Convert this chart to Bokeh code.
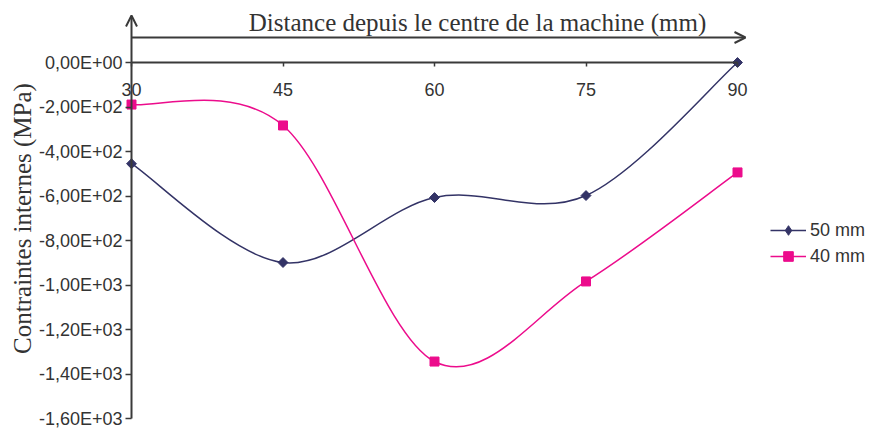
import numpy as np
from bokeh.plotting import figure
from bokeh.models import (Range1d, LinearAxis, FixedTicker, Arrow, OpenHead, Label,
                          Legend, LegendItem, ColumnDataSource)
from bokeh.embed import file_html
from bokeh.resources import INLINE

# ---- data ----
distance = [30, 45, 60, 75, 90]
s50 = [-455, -899, -607, -598, 0]
s40 = [-189, -283, -1344, -984, -494]
series_names = ["50 mm", "40 mm"]
x_ticks = [30, 45, 60, 75, 90]
y_ticks = [0, -200, -400, -600, -800, -1000, -1200, -1400, -1600]
y_tick_labels = ["0,00E+00", "-2,00E+02", "-4,00E+02", "-6,00E+02", "-8,00E+02",
                 "-1,00E+03", "-1,20E+03", "-1,40E+03", "-1,60E+03"]
x_title = "Distance depuis le centre de la machine (mm)"
y_title = "Contraintes internes (MPa)"

NAVY = "#333366"
MAGENTA = "#EC0C8C"
AXIS = "#3a3a3a"
TEXT = "#333333"
SANS = "Liberation Sans"
SERIF = "Liberation Serif"

W, H = 869, 428
# layout (pixels): x=30 -> 131, x=90 -> 737 ; y=0 -> 62, y=-1600 -> 418
PX_X = (737 - 131) / 60.0
PX_Y = (418 - 62) / 1600.0
x_lo = 30 - 131 / PX_X
x_hi = 30 + (W - 131) / PX_X
y_hi = 62 / PX_Y
y_lo = -(H - 62) / PX_Y


def bezier_source(xs, ys):
    P = np.column_stack([np.asarray(xs, float), np.asarray(ys, float)])
    n = len(P)
    d = dict(x0=[], y0=[], x1=[], y1=[], cx0=[], cy0=[], cx1=[], cy1=[])
    for i in range(n - 1):
        p0 = P[max(i - 1, 0)]
        p1 = P[i]
        p2 = P[i + 1]
        p3 = P[min(i + 2, n - 1)]
        c0 = p1 + (p2 - p0) / 6.0
        c1 = p2 - (p3 - p1) / 6.0
        d["x0"].append(p1[0]); d["y0"].append(p1[1])
        d["x1"].append(p2[0]); d["y1"].append(p2[1])
        d["cx0"].append(c0[0]); d["cy0"].append(c0[1])
        d["cx1"].append(c1[0]); d["cy1"].append(c1[1])
    return ColumnDataSource(d)


p = figure(width=W, height=H, x_range=Range1d(x_lo, x_hi), y_range=Range1d(y_lo, y_hi),
           output_backend="svg", toolbar_location=None,
           x_axis_location=None, y_axis_location=None,
           min_border_left=0, min_border_right=0, min_border_top=0, min_border_bottom=0)
p.grid.visible = False
p.outline_line_color = None
p.background_fill_color = "white"

xaxis = LinearAxis(fixed_location=0, ticker=FixedTicker(ticks=x_ticks), bounds=(30, 90))
xaxis.axis_line_color = AXIS
xaxis.axis_line_width = 2
xaxis.major_tick_line_color = AXIS
xaxis.major_tick_line_width = 1.5
xaxis.major_tick_out = 4
xaxis.major_tick_in = 0
xaxis.minor_tick_line_color = None
xaxis.major_label_standoff = 16
xaxis.major_label_text_font = SANS
xaxis.major_label_text_font_size = "18px"
xaxis.major_label_text_color = TEXT
p.add_layout(xaxis, "below")

yaxis = LinearAxis(fixed_location=30, ticker=FixedTicker(ticks=y_ticks), bounds=(-1600, 0),
                   major_label_overrides={t: l for t, l in zip(y_ticks, y_tick_labels)})
yaxis.axis_line_color = AXIS
yaxis.axis_line_width = 2
yaxis.major_tick_line_color = AXIS
yaxis.major_tick_line_width = 1.5
yaxis.major_tick_out = 6
yaxis.major_tick_in = 0
yaxis.minor_tick_line_color = None
yaxis.major_label_standoff = 3
yaxis.major_label_text_font = SANS
yaxis.major_label_text_font_size = "18px"
yaxis.major_label_text_color = TEXT
p.add_layout(yaxis, "left")

# arrows
p.add_layout(Arrow(end=OpenHead(size=11, line_width=2, line_color=AXIS),
                   x_start=30, y_start=0, x_end=30, y_end=(62 - 15) / PX_Y,
                   line_width=2, line_color=AXIS))
p.add_layout(Arrow(end=OpenHead(size=11, line_width=2, line_color=AXIS),
                   x_start=30, y_start=(62 - 37) / PX_Y, x_end=30 + (745 - 131) / PX_X,
                   y_end=(62 - 37) / PX_Y, line_width=2, line_color=AXIS))

# titles
p.add_layout(Label(x=30 + (477 - 131) / PX_X, y=(62 - 22) / PX_Y, text=x_title,
                   text_align="center", text_baseline="middle",
                   text_font=SERIF, text_font_size="25px", text_color=TEXT))
p.add_layout(Label(x=30 - (131 - 22) / PX_X, y=-(218 - 62) / PX_Y, text=y_title,
                   angle=np.pi / 2, text_align="center", text_baseline="middle",
                   text_font=SERIF, text_font_size="25px", text_color=TEXT))

# series
b50 = p.bezier(x0="x0", y0="y0", x1="x1", y1="y1", cx0="cx0", cy0="cy0", cx1="cx1", cy1="cy1",
               source=bezier_source(distance, s50), line_color=NAVY, line_width=1.5)
b40 = p.bezier(x0="x0", y0="y0", x1="x1", y1="y1", cx0="cx0", cy0="cy0", cx1="cx1", cy1="cy1",
               source=bezier_source(distance, s40), line_color=MAGENTA, line_width=1.5)
m50 = p.scatter(distance, s50, marker="square", angle=np.pi / 4, size=7,
                fill_color=NAVY, line_color=NAVY)
m40 = p.scatter(distance, s40, marker="square", size=9, fill_color=MAGENTA, line_color=MAGENTA)
# legend-only diamond symbol (no data drawn)
k50 = p.scatter([np.nan], [np.nan], marker="diamond", fill_color=NAVY, line_color=NAVY)

legend = Legend(items=[LegendItem(label=series_names[0], renderers=[b50, k50]),
                       LegendItem(label=series_names[1], renderers=[b40, m40])],
                location=(770, H - 268))
legend.border_line_color = None
legend.background_fill_alpha = 0
legend.padding = 0
legend.margin = 0
legend.spacing = 2
legend.glyph_width = 36
legend.glyph_height = 24
legend.label_height = 24
legend.label_standoff = 4
legend.label_text_font = SANS
legend.label_text_font_size = "18px"
legend.label_text_color = TEXT
legend.label_text_baseline = "middle"
p.add_layout(legend, "center")

open("out.html", "w").write(file_html(p, INLINE))
